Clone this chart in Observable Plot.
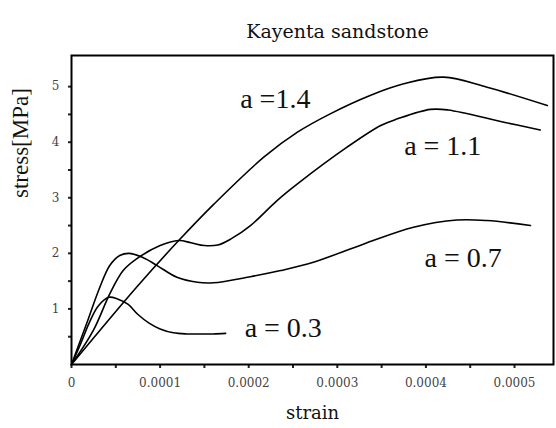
<!DOCTYPE html>
<html><head><meta charset="utf-8">
<script src="https://cdn.jsdelivr.net/npm/d3@7"></script>
<script src="https://cdn.jsdelivr.net/npm/@observablehq/plot@0.6"></script>
<style>body{margin:0;background:#fff}</style>
</head><body><div id="chart"></div>
<script>
const title = "Kayenta sandstone";
const xLabel = "strain";
const yLabel = "stress[MPa]";
const seriesNames = ["a = 0.3", "a = 0.7", "a = 1.1", "a =1.4"];

const strain03 = [0, 0.00001, 0.00002, 0.00003, 0.000042, 0.000052, 0.000064, 0.000075, 0.000088, 0.0001, 0.000115, 0.00013, 0.000145, 0.00016, 0.000174];
const stress03 = [0, 0.36, 0.75, 1.05, 1.21, 1.18, 1.08, 0.90, 0.74, 0.64, 0.57, 0.55, 0.55, 0.55, 0.56];

const strain07 = [0, 0.0000169, 0.000032, 0.0000432, 0.0000545, 0.000065, 0.00008, 0.0000967, 0.000119, 0.000142, 0.00016, 0.000202, 0.000236, 0.000273, 0.00033, 0.000386, 0.000435, 0.000469, 0.000518];
const stress07 = [0, 0.73, 1.39, 1.78, 1.96, 2.0, 1.93, 1.78, 1.57, 1.48, 1.47, 1.58, 1.69, 1.84, 2.17, 2.47, 2.60, 2.59, 2.50];

const strain11 = [0, 0.0000245, 0.0000432, 0.0000583, 0.0000734, 0.0001, 0.000121, 0.000135, 0.00015, 0.000165, 0.00018, 0.000202, 0.000232, 0.000255, 0.000311, 0.000349, 0.000368, 0.000405, 0.000425, 0.000488, 0.000529];
const stress11 = [0, 0.61, 1.27, 1.69, 1.90, 2.14, 2.23, 2.19, 2.14, 2.15, 2.26, 2.50, 2.95, 3.25, 3.91, 4.30, 4.42, 4.59, 4.58, 4.36, 4.22];

const strain14 = [0, 0.0000734, 0.000121, 0.000161, 0.000217, 0.000255, 0.000292, 0.000337, 0.000375, 0.00042, 0.000469, 0.000537];
const stress14 = [0, 1.39, 2.23, 2.89, 3.73, 4.18, 4.51, 4.84, 5.05, 5.17, 4.99, 4.66];

const xTicks = [0, 0.0001, 0.0002, 0.0003, 0.0004, 0.0005];
const xTickLabels = ["0", "0.0001", "0.0002", "0.0003", "0.0004", "0.0005"];
const xMinorTicks = [0.00005, 0.00015, 0.00025, 0.00035, 0.00045];
const yTicks = [1, 2, 3, 4, 5];
const yTickLabels = ["1", "2", "3", "4", "5"];
const yMinorTicks = [0.5, 1.5, 2.5, 3.5, 4.5];

// annotation anchors (data units)
const labelStrain = [0.000239, 0.000442, 0.000419, 0.000230];
const labelStress = [0.65, 1.92, 3.94, 4.78];

const series = [[strain03, stress03], [strain07, stress07], [strain11, stress11], [strain14, stress14]];
const rows = series.flatMap(([xs, ys], k) => xs.map((x, i) => ({series: seriesNames[k], strain: x, stress: ys[i]})));
const labels = seriesNames.map((name, i) => ({name, strain: labelStrain[i], stress: labelStress[i]}));
const xFmt = new Map(xTicks.map((t, i) => [t, xTickLabels[i]]));
const yFmt = new Map(yTicks.map((t, i) => [t, yTickLabels[i]]));

const chart = Plot.plot({
  width: 556,
  height: 428,
  marginLeft: 71,
  marginRight: 3,
  marginTop: 55,
  marginBottom: 64,
  style: {background: "#fff", fontFamily: "DejaVu Serif"},
  x: {type: "linear", domain: [0, 0.000544]},
  y: {type: "linear", domain: [0, 5.56]},
  marks: [
    Plot.axisX(xTicks, {tickSize: 4, tickPadding: 10, tickFormat: d => xFmt.get(d), fontSize: 12, fill: "#444", stroke: "#222", strokeWidth: 2, label: null}),
    Plot.axisX(xMinorTicks, {tickSize: 4, tickFormat: () => "", stroke: "#222", strokeWidth: 2, label: null}),
    Plot.axisY(yTicks, {tickSize: 3, tickPadding: 9, tickFormat: d => yFmt.get(d), fontSize: 12, fill: "#444", stroke: "#222", strokeWidth: 2, label: null}),
    Plot.axisY(yMinorTicks, {tickSize: 3, tickFormat: () => "", stroke: "#222", strokeWidth: 2, label: null}),
    Plot.line(rows, {x: "strain", y: "stress", z: "series", curve: "catmull-rom", stroke: "black", strokeWidth: 1.6}),
    Plot.text(labels, {x: "strain", y: "stress", text: "name", fontSize: 28, fontFamily: "Liberation Serif", fill: "#111"}),
    Plot.text([title], {frameAnchor: "top", dy: -31, dx: 25, fontSize: 19, fontFamily: "DejaVu Serif", fill: "#111"}),
    Plot.text([xLabel], {frameAnchor: "bottom", dy: 54, fontSize: 18, fontFamily: "DejaVu Serif", fill: "#111"}),
    Plot.text([yLabel], {frameAnchor: "left", dx: -51, dy: -12, rotate: -90, fontSize: 23, fontFamily: "Liberation Serif", fill: "#111"}),
    Plot.frame({stroke: "black", strokeWidth: 2})
  ]
});
document.getElementById("chart").append(chart);
</script>
</body></html>
